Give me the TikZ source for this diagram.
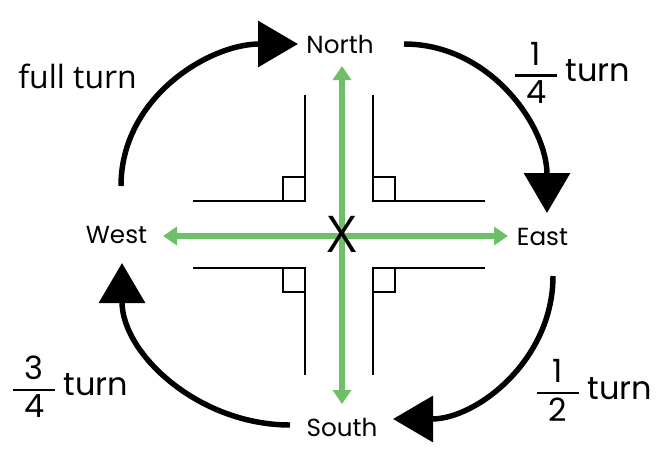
\documentclass[tikz,border=0pt]{standalone}
\usepackage{fontspec}
\setmainfont{Poppins}
\newfontfamily\opensans{Open Sans}
\usetikzlibrary{arrows.meta}
\definecolor{axisGreen}{HTML}{6FBF69}

%% frazione con cifre nel font del testo e barra spessa
\newcommand{\turnfrac}[2]{$\vcenter{\offinterlineskip\halign{\hfil##\hfil\cr
  #1\cr\noalign{\kern7pt}\vrule width 1.3em height 1.7pt depth 0pt\cr
  \noalign{\kern3pt}#2\cr}}$}

\begin{document}
\begin{tikzpicture}[
  x=0.75pt, y=0.75pt,
  compass/.style={font=\fontsize{18.5}{22}\selectfont, inner sep=0pt, anchor=base},
  turnlabel/.style={font=\fontsize{24}{28}\selectfont, inner sep=0pt, anchor=base west},
  turnarrow/.style={line width=4.1pt, -{Triangle[length=30pt, width=34pt]}},
  axisarrow/.style={draw=axisGreen, line width=4pt,
    {Triangle[length=10.5pt, width=13.5pt]}-{Triangle[length=10.5pt, width=13.5pt]}},
  rightangle/.style={line width=1.5pt}
]
  %% --- geometria (unita': pixel del riferimento) ---
  \useasboundingbox (0,0) rectangle (667,-457);
  \def\cx{339}               % centro x degli angoli retti
  \def\cy{-234.5}            % centro y degli angoli retti

  %% --- quattro angoli retti attorno all'incrocio ---
  \foreach \sx/\sy in {-1/1, 1/1, -1/-1, 1/-1} {
    \coordinate (corner) at ({\cx+34*\sx},{\cy+33.5*\sy});
    \draw[rightangle] ({\cx+146*\sx},{\cy+33.5*\sy}) -- (corner)
      -- ({\cx+34*\sx},{\cy+140*\sy});
    \draw[rightangle] (corner) rectangle ++({22*\sx},{24*\sy});
  }

  %% --- assi verdi ---
  \coordinate (nTip) at (342,-66);
  \coordinate (sTip) at (342,-404);
  \coordinate (wTip) at (163,-236);
  \coordinate (eTip) at (508,-236);
  \draw[axisarrow] (wTip) -- (eTip);
  \draw[axisarrow] (nTip) -- (sTip);
  \node[font=\opensans\fontsize{38}{40}\selectfont, inner sep=0pt] (cross) at (342,-234) {X};

  %% --- punti cardinali ---
  \node[compass] (north) at (340,-53) {North};
  \node[compass] (east) at (542.5,-245) {East};
  \node[compass] (south) at (342,-436) {South};
  \node[compass] (west) at (116.5,-243) {West};

  %% --- frecce di rotazione ---
  \coordinate (fullStart) at (121,-186);
  \coordinate (fullTip) at (298,-44);
  \coordinate (quarterStart) at (404,-44);
  \coordinate (quarterTip) at (547,-213);
  \coordinate (halfStart) at (553,-276);
  \coordinate (halfTip) at (393,-419);
  \coordinate (threeStart) at (290,-425);
  \coordinate (threeTip) at (122,-263);
  \draw[turnarrow] (fullStart) to[out=90, in=180] (fullTip);
  \draw[turnarrow] (quarterStart) to[out=0, in=90] (quarterTip);
  \draw[turnarrow] (halfStart) to[out=-90, in=0] (halfTip);
  \draw[turnarrow] (threeStart) to[out=180, in=-90] (threeTip);

  %% --- etichette delle rotazioni ---
  \node[turnlabel, font=\opensans\fontsize{24}{28}\selectfont] (fullturn) at (18,-88) {full turn};
  \node[turnlabel] (quarter) at (515,-81) {\turnfrac{1}{4}\ turn};
  \node[turnlabel] (half) at (537,-399) {\turnfrac{1}{2}\ turn};
  \node[turnlabel] (threequarter) at (13,-395) {\turnfrac{3}{4}\ turn};
\end{tikzpicture}
\end{document}
